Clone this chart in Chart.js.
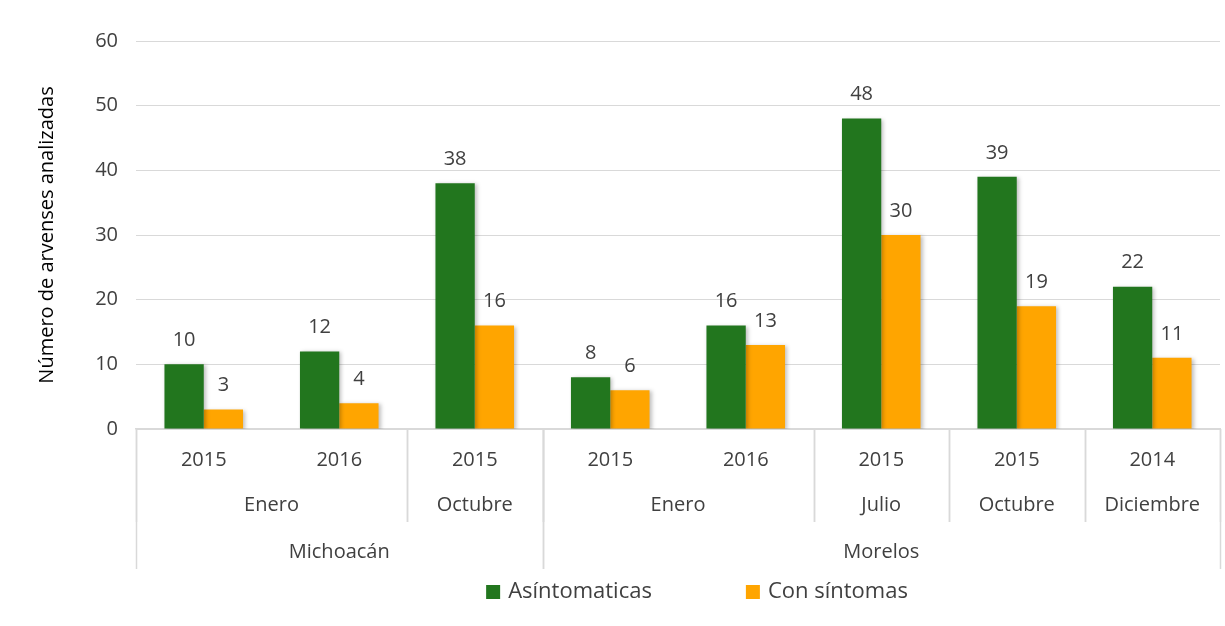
<!DOCTYPE html>
<html>
<head>
<meta charset="utf-8">
<script src="https://cdn.jsdelivr.net/npm/chart.js@4"></script>
<style>
  html, body { margin: 0; padding: 0; background: #fff; }
  #wrap { width: 1225px; height: 626px; }
</style>
</head>
<body>
<div id="wrap"><canvas id="barChart"></canvas></div>
<script>
// datos
const years = ['2015', '2016', '2015', '2015', '2016', '2015', '2015', '2014'];
const months = ['Enero', 'Enero', 'Octubre', 'Enero', 'Enero', 'Julio', 'Octubre', 'Diciembre'];
const states = ['Michoacán', 'Michoacán', 'Michoacán', 'Morelos', 'Morelos', 'Morelos', 'Morelos', 'Morelos'];
const asintomaticas = [10, 12, 38, 8, 16, 48, 39, 22];
const conSintomas = [3, 4, 16, 6, 13, 30, 19, 11];
const yTicks = [0, 10, 20, 30, 40, 50, 60];

const FONT = '"Open Sans", sans-serif';
const TEXT = '#404040';
const LINE = '#d9d9d9';

// runs of equal values (months split by state too)
function groups(keyFn) {
  const out = [];
  for (let i = 0; i < years.length; i++) {
    const k = keyFn(i);
    if (out.length && out[out.length - 1].key === k) out[out.length - 1].end = i;
    else out.push({ key: k, start: i, end: i });
  }
  return out;
}

// multi level axis drawn under the chart area
const multiAxis = {
  id: 'multiAxis',
  afterDraw(chart) {
    const x = chart.scales.x;
    const ctx = chart.ctx;
    const top = chart.chartArea.bottom;
    const half = (x.getPixelForValue(1) - x.getPixelForValue(0)) / 2;
    const edge = (i, side) => x.getPixelForValue(i) + side * half;
    ctx.save();
    ctx.font = '20px ' + FONT;
    ctx.fillStyle = TEXT;
    ctx.textAlign = 'center';
    ctx.textBaseline = 'middle';
    years.forEach((y, i) => ctx.fillText(y, x.getPixelForValue(i), top + 31));
    const mg = groups(i => states[i] + '|' + months[i]);
    mg.forEach(g => ctx.fillText(months[g.start], (edge(g.start, -1) + edge(g.end, 1)) / 2, top + 76));
    const sg = groups(i => states[i]);
    sg.forEach(g => ctx.fillText(states[g.start], (edge(g.start, -1) + edge(g.end, 1)) / 2, top + 123));

    ctx.strokeStyle = LINE;
    ctx.lineWidth = 1.5;
    const vline = (px, len) => {
      ctx.beginPath();
      ctx.moveTo(Math.round(px) + 0.5, top);
      ctx.lineTo(Math.round(px) + 0.5, top + len);
      ctx.stroke();
    };
    mg.forEach(g => { vline(edge(g.start, -1), 93); vline(edge(g.end, 1), 93); });
    sg.forEach(g => { vline(edge(g.start, -1), 140); vline(edge(g.end, 1), 140); });

    // legend, spaced like the original
    ctx.font = '22px ' + FONT;
    ctx.textAlign = 'left';
    const box = 14, gapText = 8, gapItem = 94;
    const items = chart.data.datasets.map(ds => ({ label: ds.label, color: ds.backgroundColor, w: ctx.measureText(ds.label).width }));
    const total = items.reduce((s, it) => s + box + gapText + it.w, 0) + gapItem * (items.length - 1);
    let lx = (chart.chartArea.left + chart.chartArea.right) / 2 + 19 - total / 2;
    const ly = top + 163;
    items.forEach(it => {
      ctx.fillStyle = it.color;
      ctx.fillRect(lx, ly - box / 2, box, box);
      ctx.fillStyle = TEXT;
      ctx.fillText(it.label, lx + box + gapText, ly);
      lx += box + gapText + it.w + gapItem;
    });
    ctx.restore();
  }
};

// value labels above bars
const valueLabels = {
  id: 'valueLabels',
  afterDatasetsDraw(chart) {
    const ctx = chart.ctx;
    ctx.save();
    ctx.font = '20px ' + FONT;
    ctx.fillStyle = TEXT;
    ctx.textAlign = 'center';
    ctx.textBaseline = 'middle';
    chart.data.datasets.forEach((ds, di) => {
      chart.getDatasetMeta(di).data.forEach((bar, i) => {
        ctx.fillText(ds.data[i], bar.x, bar.y - 24);
      });
    });
    ctx.restore();
  }
};

// soft shadow on bars
const barShadow = {
  id: 'barShadow',
  beforeDatasetsDraw(chart) {
    const ctx = chart.ctx;
    ctx.save();
    ctx.shadowColor = 'rgba(0,0,0,0.25)';
    ctx.shadowBlur = 4;
    ctx.shadowOffsetX = 2;
    ctx.shadowOffsetY = 1;
  },
  afterDatasetsDraw(chart) {
    chart.ctx.restore();
  }
};

const barChart = new Chart(document.getElementById('barChart'), {
  type: 'bar',
  data: {
    labels: years,
    datasets: [
      { label: 'Asíntomaticas', data: asintomaticas, backgroundColor: '#22761E' },
      { label: 'Con síntomas', data: conSintomas, backgroundColor: '#FFA500' }
    ]
  },
  options: {
    responsive: true,
    maintainAspectRatio: false,
    animation: false,
    layout: { padding: { top: 41, right: 5, left: 0, bottom: 57 } },
    datasets: { bar: { barPercentage: 1, categoryPercentage: 0.58 } },
    plugins: {
      tooltip: { enabled: false },
      legend: { display: false }
    },
    scales: {
      x: {
        ticks: { display: false },
        grid: { display: false },
        border: { color: LINE, width: 1.5 },
        afterFit(scale) { scale.height = 140; }
      },
      y: {
        min: 0,
        max: 60,
        afterBuildTicks(scale) { scale.ticks = yTicks.map(v => ({ value: v })); },
        ticks: { font: { family: FONT, size: 20 }, color: TEXT, padding: 18 },
        grid: { color: LINE, tickLength: 0 },
        border: { display: false },
        title: {
          display: true,
          text: 'Número de arvenses analizadas',
          font: { family: FONT, size: 20 },
          color: '#000',
          padding: { top: 35, bottom: 0 }
        },
        afterFit(scale) { scale.width = 136; }
      }
    }
  },
  plugins: [barShadow, valueLabels, multiAxis]
});
</script>
</body>
</html>
